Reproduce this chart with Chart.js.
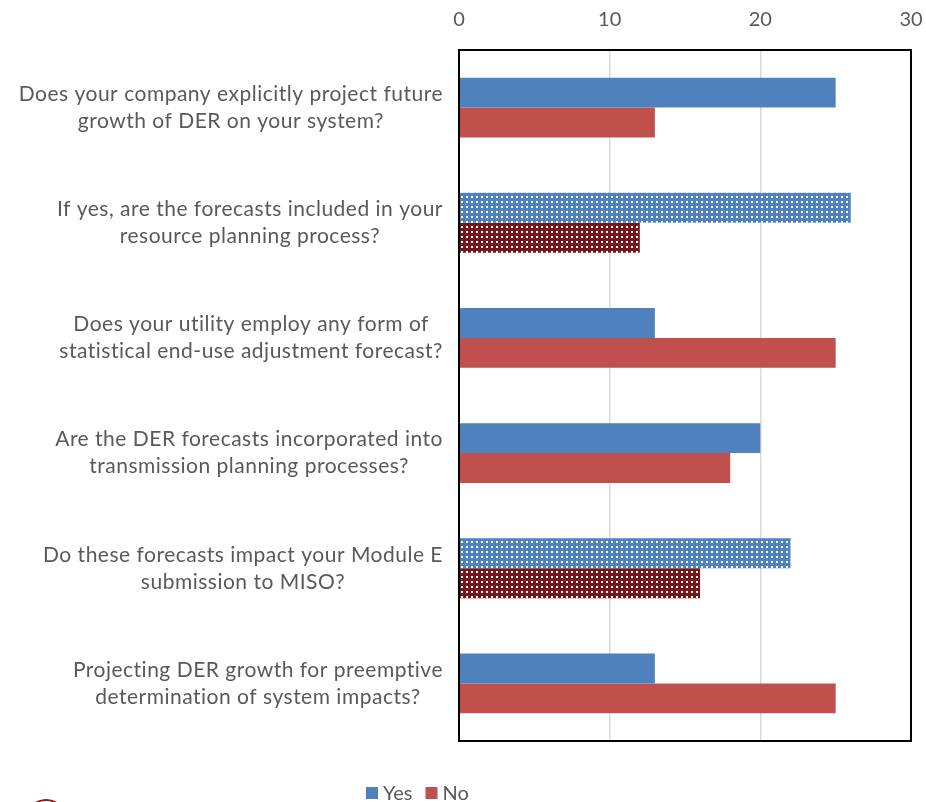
<!DOCTYPE html>
<html>
<head>
<meta charset="utf-8">
<title>DER forecasting survey</title>
<script src="https://cdn.jsdelivr.net/npm/chart.js@4/dist/chart.umd.min.js"></script>
<style>
  html, body { margin: 0; padding: 0; background: #fff; }
  #wrap { width: 926px; height: 802px; position: relative; }
</style>
</head>
<body>
<div id="wrap"><canvas id="surveyChart" width="926" height="802"></canvas></div>
<script>
// survey questions (each label is split into its two lines)
var questions = [
  ["Does your company explicitly project future", "growth of DER on your system?"],
  ["If yes, are the forecasts included in your", "resource planning process?"],
  ["Does your utility employ any form of", "statistical end-use adjustment forecast?"],
  ["Are the DER forecasts incorporated into", "transmission planning processes?"],
  ["Do these forecasts impact your Module E", "submission to MISO?"],
  ["Projecting DER growth for preemptive", "determination of system impacts?"]
];
var yesCounts = [25, 26, 13, 20, 22, 13];
var noCounts = [13, 12, 25, 18, 16, 25];
var xTicks = [0, 10, 20, 30];
// questions whose bars are drawn with the dotted fill
var dottedRows = [1, 4];

var FONT = "Lato, 'Open Sans', sans-serif";
var TEXT = "#595959";

function dotPattern(base) {
  var c = document.createElement('canvas');
  c.width = 5; c.height = 5;
  var g = c.getContext('2d');
  g.fillStyle = base;
  g.fillRect(0, 0, 5, 5);
  g.fillStyle = '#ffffff';
  g.fillRect(1, 1, 2, 2);
  return g.createPattern(c, 'repeat');
}
var bluePattern = dotPattern('#4F81BD');
var redPattern = dotPattern('#74161A');

function fillFor(solid, pattern) {
  return function (ctx) {
    return dottedRows.indexOf(ctx.dataIndex) !== -1 ? pattern : solid;
  };
}

// question labels: block right aligned against the axis, lines centred in the block
var questionLabels = {
  id: 'questionLabels',
  afterDraw: function (chart) {
    var ctx = chart.ctx;
    var yScale = chart.scales.y;
    var right = chart.chartArea.left - 16;
    var lineH = 27;
    ctx.save();
    ctx.font = "21px " + FONT;
    ctx.letterSpacing = '0.5px';
    ctx.fillStyle = TEXT;
    ctx.textAlign = 'center';
    ctx.textBaseline = 'middle';
    questions.forEach(function (lines, i) {
      var w = 0;
      lines.forEach(function (l) { w = Math.max(w, ctx.measureText(l).width); });
      var cx = right - w / 2;
      var cy = yScale.getPixelForTick(i);
      lines.forEach(function (l, j) {
        ctx.fillText(l, cx, cy + (j - (lines.length - 1) / 2) * lineH);
      });
    });
    ctx.restore();
  }
};

// black frame round the plot area
var plotFrame = {
  id: 'plotFrame',
  afterDatasetsDraw: function (chart) {
    var a = chart.chartArea;
    var ctx = chart.ctx;
    ctx.save();
    ctx.strokeStyle = '#000';
    ctx.lineWidth = 2;
    ctx.strokeRect(a.left, a.top, a.right - a.left, a.bottom - a.top);
    ctx.restore();
  }
};

// legend under the plot plus the edge of the logo in the corner
var footer = {
  id: 'footer',
  afterDraw: function (chart) {
    var ctx = chart.ctx;
    var x = 366, y = 793;
    ctx.save();
    ctx.font = "20px " + FONT;
    ctx.textBaseline = 'middle';
    chart.data.datasets.forEach(function (ds) {
      ctx.fillStyle = ds.legendColor;
      ctx.fillRect(x, y - 6, 12, 12);
      ctx.fillStyle = TEXT;
      ctx.fillText(ds.label, x + 17, y + 1);
      x += 17 + ctx.measureText(ds.label).width + 13;
    });
    ctx.strokeStyle = '#8B1C22';
    ctx.lineWidth = 2;
    ctx.beginPath();
    ctx.ellipse(46, 830, 24, 30, 0, Math.PI * 1.22, Math.PI * 1.78);
    ctx.stroke();
    ctx.restore();
  }
};

new Chart(document.getElementById('surveyChart'), {
  type: 'bar',
  data: {
    labels: questions,
    datasets: [{
      label: 'Yes',
      data: yesCounts,
      legendColor: '#4F81BD',
      backgroundColor: fillFor('#4F81BD', bluePattern)
    }, {
      label: 'No',
      data: noCounts,
      legendColor: '#C0504D',
      backgroundColor: fillFor('#C0504D', redPattern)
    }]
  },
  options: {
    indexAxis: 'y',
    responsive: false,
    animation: false,
    devicePixelRatio: 1,
    categoryPercentage: 0.52,
    barPercentage: 1.0,
    layout: { padding: { left: 0, right: 15, top: 0, bottom: 61 } },
    plugins: {
      legend: { display: false },
      tooltip: { enabled: false }
    },
    scales: {
      x: {
        position: 'top',
        min: 0,
        max: 30,
        afterBuildTicks: function (scale) {
          scale.ticks = xTicks.map(function (v) { return { value: v }; });
        },
        afterFit: function (scale) {
          scale.height = 50;
          scale.paddingLeft = 0;
          scale.paddingRight = 0;
        },
        ticks: { color: TEXT, font: { family: FONT, size: 20 }, padding: 18 },
        grid: { color: '#D9D9D9', lineWidth: 1.5, drawTicks: false },
        border: { display: false }
      },
      y: {
        afterFit: function (scale) { scale.width = 459; },
        ticks: { display: false },
        grid: { display: false },
        border: { display: false }
      }
    }
  },
  plugins: [questionLabels, plotFrame, footer]
});
</script>
</body>
</html>
